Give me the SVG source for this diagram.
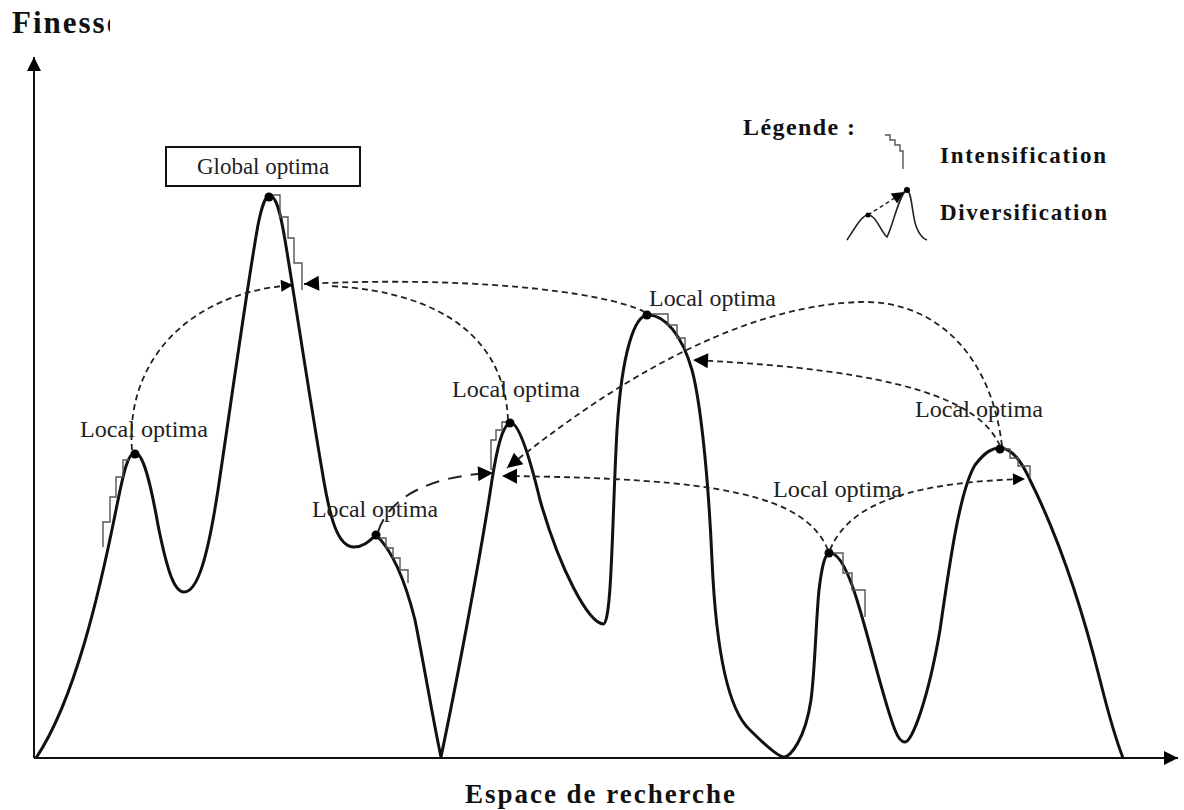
<svg xmlns="http://www.w3.org/2000/svg" width="1184" height="810" viewBox="0 0 1184 810">
  <style>
    .axis { stroke: #111; stroke-width: 2; fill: none; }
    .curve { stroke: #111; stroke-width: 3; fill: none; stroke-linejoin: round; }
    .stairs { stroke: #555; stroke-width: 1.4; fill: none; }
    .dash { stroke: #222; stroke-width: 1.8; fill: none; stroke-dasharray: 6 4; }
    .dash-long { stroke: #222; stroke-width: 2; fill: none; stroke-dasharray: 14 9; }
    .dot { fill: #000; }
    .label { font-family: "Liberation Serif", "Times New Roman", serif; font-size: 23px; fill: #222; }
    .title { font-family: "Liberation Serif", "Times New Roman", serif; font-weight: bold; fill: #111; }
  </style>
  <defs>
    <marker id="arrow" viewBox="0 0 10 10" refX="10" refY="5" markerWidth="18" markerHeight="12" markerUnits="userSpaceOnUse" orient="auto">
      <path d="M0,0 L10,5 L0,10 Z" fill="#000"/>
    </marker>
    <marker id="arrow-big" viewBox="0 0 10 10" refX="10" refY="5" markerWidth="20" markerHeight="15" markerUnits="userSpaceOnUse" orient="auto">
      <path d="M0,0 L10,5 L0,10 Z" fill="#000"/>
    </marker>
    <marker id="axis-head" viewBox="0 0 10 10" refX="10" refY="5" markerWidth="22" markerHeight="14" markerUnits="userSpaceOnUse" orient="auto">
      <path d="M0,0 L10,5 L0,10 Z" fill="#000"/>
    </marker>
    <clipPath id="title-clip">
      <rect x="0" y="0" width="110" height="50"/>
    </clipPath>
  </defs>

  <rect width="1184" height="810" fill="#fff"/>

  <!-- axes -->
  <g id="axes">
    <line class="axis" x1="34" y1="758" x2="34" y2="57" marker-end="url(#axis-head)"/>
    <line class="axis" x1="34" y1="758" x2="1178" y2="758" marker-end="url(#axis-head)"/>
    <text class="title" x="12" y="33" font-size="31" letter-spacing="2" clip-path="url(#title-clip)">Finesse</text>
    <text class="title" x="465" y="803" font-size="27" textLength="270" lengthAdjust="spacing">Espace de recherche</text>
  </g>

  <!-- fitness landscape -->
  <g id="landscape">
    <path class="curve" d="M36,758 C75,700 100,590 116,510 C124,470 128,453 135,453 C143,453 150,480 158,525 C168,575 175,592 184,592 C198,592 208,555 218,490 C230,410 248,280 258,225 C262,205 265,196 270,196 C276,196 280,210 285,240 C295,300 310,400 322,470 C330,520 338,547 354,547 C364,547 370,540 376,535 C392,550 405,580 415,620 C425,670 433,720 441,757 C455,690 480,560 492,480 C497,448 503,423 511,423 C518,423 528,450 540,500 C560,570 588,622 603,624 C612,625 612,520 617,430 C622,350 635,315 648,315 C665,315 682,335 692,370 C700,400 708,470 712,560 C716,650 728,710 750,730 C765,745 778,757 784,757 C790,757 805,740 811,700 C815,670 816,620 819,590 C822,565 825,553 830,553 C840,553 850,575 860,610 C872,650 885,705 895,730 C898,738 902,742 905,742 C912,742 928,700 940,630 C950,560 960,490 975,465 C985,452 992,448 1000,448 C1012,448 1022,462 1030,480 C1055,530 1080,600 1100,680 C1110,720 1118,745 1123,758"/>
  </g>

  <!-- intensification steps -->
  <g id="intensification">
    <path class="stairs" d="M103,547 V522 H110 V497 H116 V477 H123 V460 H129"/>
    <path class="stairs" d="M270,195 H280 V217 H288 V238 H294 V263 H302 V290"/>
    <path class="stairs" d="M378,538 H386 V548 H393 V558 H400 V570 H408 V583"/>
    <path class="stairs" d="M508,422 H502 V430 H496 V440 H491 V452 V470"/>
    <path class="stairs" d="M650,314 H668 V325 H677 V338 H685 V350"/>
    <path class="stairs" d="M832,553 H843 V573 H852 V590 H865 V617"/>
    <path class="stairs" d="M1003,449 H1010 V458 H1018 V466 H1030 V478"/>
  </g>

  <!-- optima -->
  <g id="optima">
    <circle class="dot" cx="135" cy="454" r="4.5"/>
    <circle class="dot" cx="269" cy="197" r="4.5"/>
    <circle class="dot" cx="376" cy="535" r="4.5"/>
    <circle class="dot" cx="510" cy="423" r="4.5"/>
    <circle class="dot" cx="647" cy="315" r="4.5"/>
    <circle class="dot" cx="829" cy="553" r="4.5"/>
    <circle class="dot" cx="1000" cy="449" r="4.5"/>
  </g>

  <!-- diversification moves -->
  <g id="connectors">
    <path class="dash" d="M132,450 C125,360 190,292 293,285" marker-end="url(#arrow)"/>
    <path class="dash" d="M645,312 C600,290 460,276 304,284" marker-end="url(#arrow-big)"/>
    <path class="dash" d="M508,420 C505,345 450,292 330,286"/>
    <path class="dash-long" d="M378,532 C388,500 425,476 493,473" marker-end="url(#arrow-big)"/>
    <path class="dash" d="M828,550 C805,495 720,478 502,476" marker-end="url(#arrow-big)"/>
    <path class="dash" d="M1002,446 C992,360 940,300 860,302 C760,305 640,360 507,468" marker-end="url(#arrow-big)"/>
    <path class="dash" d="M1000,446 C980,400 900,370 693,360" marker-end="url(#arrow-big)"/>
    <path class="dash" d="M830,550 C850,500 920,482 1025,479" marker-end="url(#arrow)"/>
  </g>

  <!-- labels -->
  <g id="global-optima">
    <rect x="166" y="147" width="194" height="39" fill="#fff" stroke="#111" stroke-width="2"/>
    <text class="label" x="263" y="174" font-size="21" text-anchor="middle">Global optima</text>
  </g>
  <g id="local-labels">
    <text class="label" x="80" y="437" textLength="128" lengthAdjust="spacingAndGlyphs">Local optima</text>
    <text class="label" x="312" y="517" textLength="126" lengthAdjust="spacingAndGlyphs">Local optima</text>
    <text class="label" x="452" y="397" textLength="128" lengthAdjust="spacingAndGlyphs">Local optima</text>
    <text class="label" x="649" y="306" textLength="127" lengthAdjust="spacingAndGlyphs">Local optima</text>
    <text class="label" x="915" y="417" textLength="128" lengthAdjust="spacingAndGlyphs">Local optima</text>
    <text class="label" x="773" y="497" textLength="129" lengthAdjust="spacingAndGlyphs">Local optima</text>
  </g>

  <!-- legend -->
  <g id="legend">
    <text class="title" x="743" y="135" font-size="24" textLength="112" lengthAdjust="spacing">Légende :</text>
    <path class="stairs" stroke="#333" stroke-width="1.8" d="M885,135 H890 V140 H895 V145 H900 V151 H903 V169"/>
    <text class="title" x="940" y="163" font-size="23" textLength="166" lengthAdjust="spacing">Intensification</text>
    <path stroke="#222" stroke-width="1.6" fill="none" d="M847,240 C855,228 862,215 868,215 C876,215 881,232 887,237 C893,225 900,192 907,190 C912,192 912,215 916,226 C919,234 923,239 927,240"/>
    <path stroke="#222" stroke-width="1.5" fill="none" stroke-dasharray="4 3" d="M868,215 L904,192" marker-end="url(#arrow)"/>
    <circle class="dot" cx="868" cy="215" r="2.5"/>
    <circle class="dot" cx="907" cy="190" r="3"/>
    <text class="title" x="940" y="220" font-size="23" textLength="167" lengthAdjust="spacing">Diversification</text>
  </g>
</svg>
